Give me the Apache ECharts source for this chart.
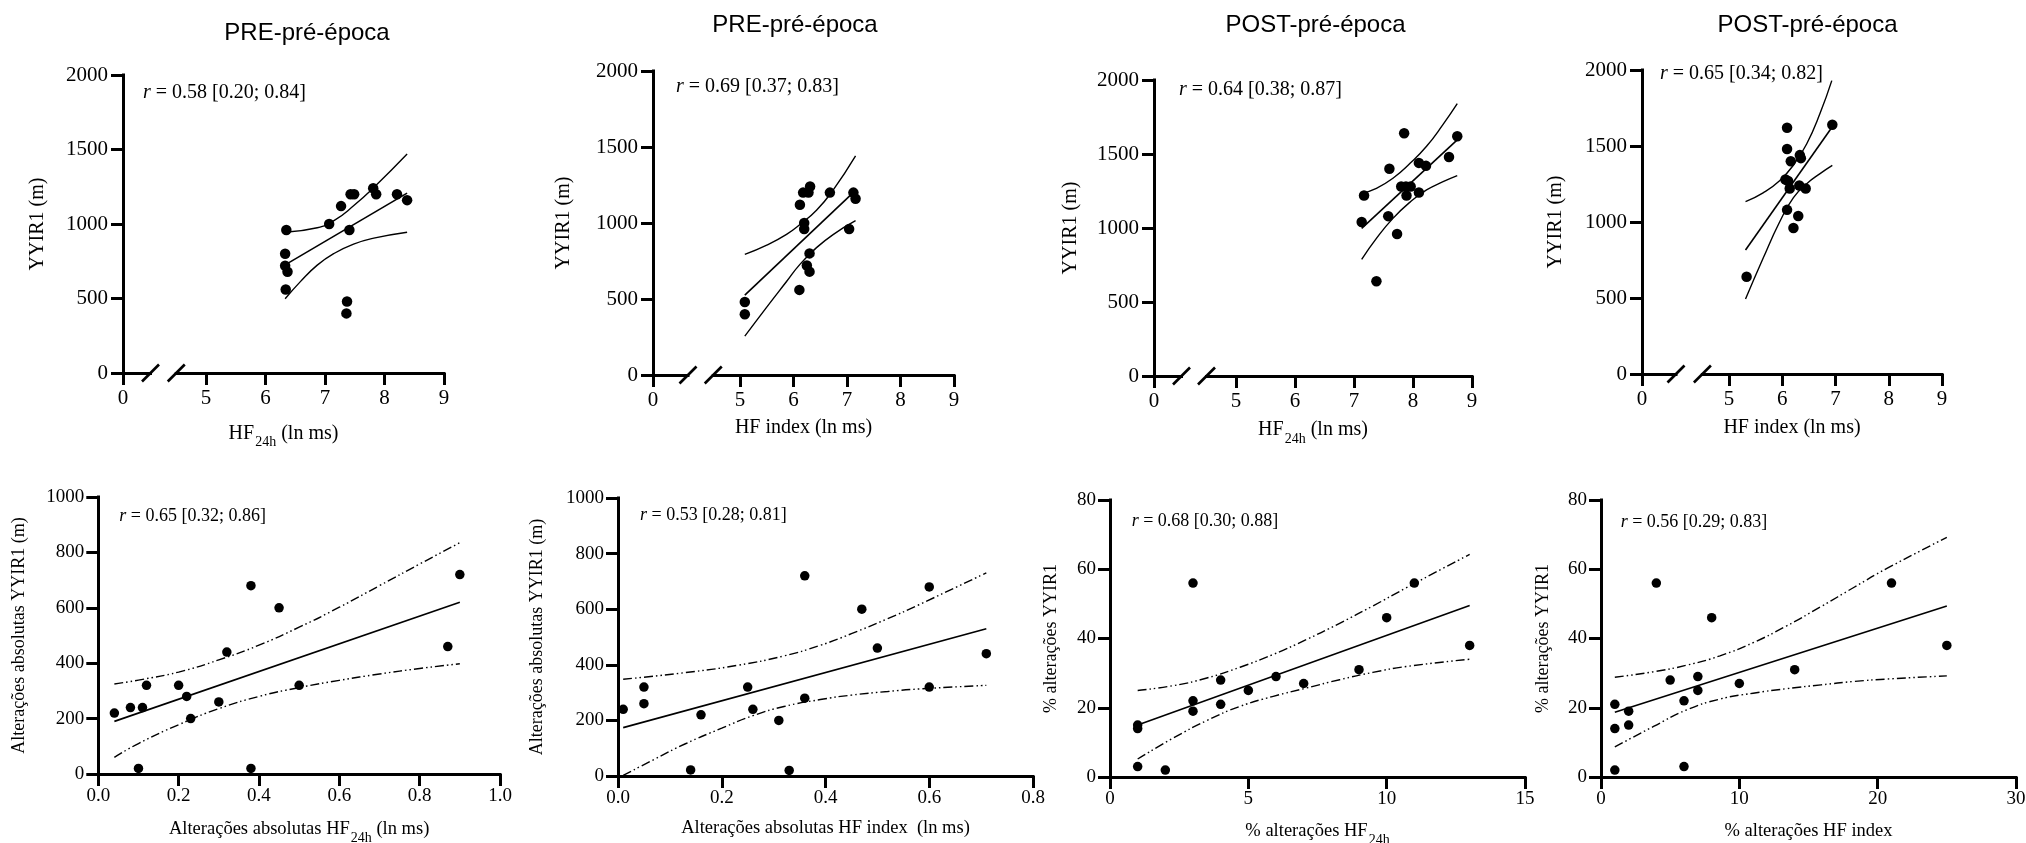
<!DOCTYPE html>
<html>
<head>
<meta charset="utf-8">
<title>YYIR1 vs HF</title>
<script src="https://cdn.jsdelivr.net/npm/echarts@6.0.0/dist/echarts.min.js"></script>
<style>
html,body{margin:0;padding:0;background:#ffffff;}
#chart{width:2026px;height:843px;}
</style>
</head>
<body>
<div id="chart"></div>
<script>
// ====================== DATA ======================
const panelTitles = ['PRE-pré-época', 'PRE-pré-época', 'POST-pré-época', 'POST-pré-época'];
const rLabels = ['0.58 [0.20; 0.84]', '0.69 [0.37; 0.83]', '0.64 [0.38; 0.87]', '0.65 [0.34; 0.82]',
                 '0.65 [0.32; 0.86]', '0.53 [0.28; 0.81]', '0.68 [0.30; 0.88]', '0.56 [0.29; 0.83]'];
const topXTicks = [5, 6, 7, 8, 9];
const topXZeroTick = [0];

// Panel 1: PRE, HF24h
const pre24hX = [6.35, 6.33, 6.33, 6.37, 6.34, 7.07, 7.27, 7.43, 7.49, 7.41, 7.37, 7.36, 7.81, 7.86, 8.21, 8.38];
const pre24hY = [960, 800, 720, 680, 560, 1000, 1120, 1200, 1200, 960, 480, 400, 1240, 1200, 1200, 1160];
const pre24hFitX = [6.33, 8.38];
const pre24hFitY = [726, 1207];
const pre24hUpX = [6.33, 6.87, 7.15, 7.48, 7.82, 8.38];
const pre24hUpY = [945, 975, 1022, 1122, 1245, 1470];
const pre24hLoX = [6.33, 6.59, 6.87, 7.15, 7.48, 7.82, 8.38];
const pre24hLoY = [498, 615, 724, 802, 865, 905, 945];

// Panel 2: PRE, HF index
const preIdxX = [5.09, 5.09, 6.11, 6.12, 6.18, 6.28, 6.31, 6.20, 6.20, 6.30, 6.25, 6.30, 6.68, 7.04, 7.12, 7.16];
const preIdxY = [480, 400, 560, 1120, 1200, 1200, 1240, 1000, 960, 800, 720, 680, 1200, 960, 1200, 1160];
const preIdxFitX = [5.09, 7.16];
const preIdxFitY = [526, 1215];
const preIdxUpX = [5.09, 5.50, 5.87, 6.12, 6.43, 6.74, 7.16];
const preIdxUpY = [793, 854, 925, 990, 1084, 1216, 1441];
const preIdxLoX = [5.09, 5.50, 5.87, 6.12, 6.43, 6.74, 7.16];
const preIdxLoY = [256, 447, 615, 728, 838, 924, 1015];

// Panel 3: POST, HF24h
const post24hX = [7.13, 7.17, 7.38, 7.58, 7.60, 7.73, 7.80, 7.85, 7.88, 7.89, 7.96, 8.10, 8.10, 8.22, 8.61, 8.75];
const post24hY = [1040, 1220, 640, 1080, 1400, 960, 1280, 1640, 1280, 1220, 1280, 1440, 1240, 1420, 1480, 1620];
const post24hFitX = [7.13, 8.75];
const post24hFitY = [998, 1595];
const post24hUpX = [7.13, 7.38, 7.66, 7.95, 8.23, 8.51, 8.75];
const post24hUpY = [1234, 1268, 1336, 1437, 1552, 1700, 1840];
const post24hLoX = [7.13, 7.38, 7.66, 7.95, 8.23, 8.51, 8.75];
const post24hLoY = [788, 930, 1065, 1175, 1257, 1313, 1354];

// Panel 4: POST, HF index
const postIdxX = [5.33, 6.09, 6.09, 6.16, 6.06, 6.11, 6.14, 6.09, 6.21, 6.30, 6.32, 6.33, 6.35, 6.44, 6.94];
const postIdxY = [640, 1620, 1480, 1400, 1280, 1270, 1220, 1080, 960, 1040, 1240, 1440, 1420, 1220, 1640];
const postIdxFitX = [5.31, 6.94];
const postIdxFitY = [816, 1627];
const postIdxUpX = [5.31, 5.64, 5.95, 6.21, 6.46, 6.71, 6.93];
const postIdxUpY = [1134, 1192, 1272, 1375, 1515, 1715, 1930];
const postIdxLoX = [5.31, 5.64, 5.95, 6.21, 6.46, 6.71, 6.94];
const postIdxLoY = [493, 761, 1000, 1160, 1252, 1318, 1372];

// Panel 5: absolute changes, HF24h
const absHf24hX = [0.04, 0.08, 0.11, 0.12, 0.20, 0.22, 0.23, 0.30, 0.32, 0.38, 0.45, 0.50, 0.87, 0.90, 0.10, 0.38];
const absHf24hY = [220, 240, 240, 320, 320, 280, 200, 260, 440, 680, 600, 320, 460, 720, 20, 20];
const absHf24hFitX = [0.04, 0.90];
const absHf24hFitY = [190, 620];
const absHf24hUpX = [0.04, 0.1, 0.2, 0.3, 0.4, 0.5, 0.6, 0.7, 0.8, 0.9];
const absHf24hUpY = [325, 339, 368, 412, 465, 530, 602, 680, 758, 835];
const absHf24hLoX = [0.04, 0.1, 0.2, 0.3, 0.4, 0.5, 0.6, 0.7, 0.8, 0.9];
const absHf24hLoY = [60, 110, 178, 236, 280, 312, 338, 361, 381, 398];

// Panel 6: absolute changes, HF index
const absIdxX = [0.01, 0.05, 0.05, 0.14, 0.16, 0.25, 0.26, 0.31, 0.33, 0.36, 0.36, 0.47, 0.50, 0.60, 0.60, 0.71];
const absIdxY = [240, 320, 260, 22, 220, 320, 240, 200, 20, 720, 280, 600, 460, 680, 320, 440];
const absIdxFitX = [0.01, 0.71];
const absIdxFitY = [174, 530];
const absIdxUpX = [0.01, 0.13, 0.23, 0.32, 0.39, 0.45, 0.52, 0.58, 0.71];
const absIdxUpY = [348, 372, 398, 432, 470, 512, 566, 616, 731];
const absIdxLoX = [0.01, 0.07, 0.13, 0.20, 0.26, 0.32, 0.39, 0.45, 0.52, 0.58, 0.71];
const absIdxLoY = [2, 60, 116, 172, 217, 250, 275, 291, 304, 313, 326];

// Panel 7: % changes, HF24h
const pctHf24hX = [1, 1, 1, 2, 3, 3, 3, 4, 4, 5, 6, 7, 9, 10, 11, 13];
const pctHf24hY = [3, 15, 14, 2, 56, 22, 19, 28, 21, 25, 29, 27, 31, 46, 56, 38];
const pctHf24hFitX = [1, 13];
const pctHf24hFitY = [15, 49.5];
const pctHf24hUpX = [1, 2.3, 3.5, 4.7, 5.9, 7.1, 8.3, 9.5, 10.7, 13];
const pctHf24hUpY = [25, 26.4, 28.6, 31.7, 35.4, 39.7, 44.4, 49.4, 54.6, 64.3];
const pctHf24hLoX = [1, 2.3, 3.5, 4.7, 5.9, 7.1, 8.3, 9.5, 10.7, 13];
const pctHf24hLoY = [5.2, 11.3, 16.3, 20.4, 23.3, 25.7, 28.1, 30.2, 31.9, 34];

// Panel 8: % changes, HF index
const pctIdxX = [1, 1, 1, 2, 2, 4, 5, 6, 6, 7, 7, 8, 10, 14, 21, 25];
const pctIdxY = [21, 14, 2, 19, 15, 56, 28, 22, 3, 29, 25, 46, 27, 31, 56, 38];
const pctIdxFitX = [1, 25];
const pctIdxFitY = [18.7, 49.4];
const pctIdxUpX = [1, 3.8, 6.2, 8.6, 11, 13.4, 15.9, 18.3, 20.7, 25];
const pctIdxUpY = [28.8, 30.4, 32.3, 35.0, 38.8, 43.6, 49.2, 54.8, 60.3, 69.2];
const pctIdxLoX = [1, 3.8, 6.2, 8.6, 11, 13.4, 15.9, 18.3, 20.7, 25];
const pctIdxLoY = [8.7, 14.6, 19.4, 22.5, 24.2, 25.5, 26.6, 27.6, 28.3, 29.2];

// ====================== LAYOUT / STYLE ======================
const SERIF = '"Liberation Serif", "Times New Roman", serif';
const SANS = '"Liberation Sans", Arial, sans-serif';
const INK = '#000000';

const topPanels = [
  {x: pre24hX, y: pre24hY, fx: pre24hFitX, fy: pre24hFitY, ux: pre24hUpX, uy: pre24hUpY, lx: pre24hLoX, ly: pre24hLoY, sub: true,
   ax: 123, yt: 75, yb: 373, stub: 150.5, ms: 176.25, me: 444, titleX: 307, titleY: 33.5, yGap: 75, xNameY: 423.5, rX: 143, rY: 92.5},
  {x: preIdxX, y: preIdxY, fx: preIdxFitX, fy: preIdxFitY, ux: preIdxUpX, uy: preIdxUpY, lx: preIdxLoX, ly: preIdxLoY, sub: false,
   ax: 653, yt: 71, yb: 375, stub: 688, ms: 713.25, me: 954, titleX: 795, titleY: 25.5, yGap: 79, xNameY: 418, rX: 676, rY: 86.7},
  {x: post24hX, y: post24hY, fx: post24hFitX, fy: post24hFitY, ux: post24hUpX, uy: post24hUpY, lx: post24hLoX, ly: post24hLoY, sub: true,
   ax: 1154, yt: 80, yb: 376, stub: 1181.5, ms: 1206.5, me: 1472, titleX: 1315.5, titleY: 25.5, yGap: 73, xNameY: 420, rX: 1179, rY: 90},
  {x: postIdxX, y: postIdxY, fx: postIdxFitX, fy: postIdxFitY, ux: postIdxUpX, uy: postIdxUpY, lx: postIdxLoX, ly: postIdxLoY, sub: false,
   ax: 1642, yt: 70, yb: 374, stub: 1676, ms: 1702.4, me: 1942, titleX: 1807.5, titleY: 25.5, yGap: 76, xNameY: 418, rX: 1660, rY: 73.3}
];

const bottomPanels = [
  {x: absHf24hX, y: absHf24hY, fx: absHf24hFitX, fy: absHf24hFitY, ux: absHf24hUpX, uy: absHf24hUpY, lx: absHf24hLoX, ly: absHf24hLoY,
   xmin: 0, xmax: 1, xint: 0.2, ymax: 1000, yint: 200, dec: 1,
   xName: '{m|Alterações absolutas HF}{s|24h}{m| (ln ms)}', yName: 'Alterações absolutas YYIR1 (m)',
   ax: 98.3, right: 500, yt: 497, yb: 774, yGap: 70, xGap: 46, rX: 119.3, rY: 516},
  {x: absIdxX, y: absIdxY, fx: absIdxFitX, fy: absIdxFitY, ux: absIdxUpX, uy: absIdxUpY, lx: absIdxLoX, ly: absIdxLoY,
   xmin: 0, xmax: 0.8, xint: 0.2, ymax: 1000, yint: 200, dec: 1,
   xName: '{m|Alterações absolutas HF index  (ln ms)}', yName: 'Alterações absolutas YYIR1 (m)',
   ax: 618, right: 1033, yt: 498, yb: 776, yGap: 72, xGap: 43, rX: 640, rY: 515},
  {x: pctHf24hX, y: pctHf24hY, fx: pctHf24hFitX, fy: pctHf24hFitY, ux: pctHf24hUpX, uy: pctHf24hUpY, lx: pctHf24hLoX, ly: pctHf24hLoY,
   xmin: 0, xmax: 15, xint: 5, ymax: 80, yint: 20, dec: 0,
   xName: '{m|% alterações HF}{s|24h}', yName: '% alterações YYIR1',
   ax: 1110, right: 1525, yt: 500, yb: 777, yGap: 50, xGap: 45, rX: 1131.7, rY: 521},
  {x: pctIdxX, y: pctIdxY, fx: pctIdxFitX, fy: pctIdxFitY, ux: pctIdxUpX, uy: pctIdxUpY, lx: pctIdxLoX, ly: pctIdxLoY,
   xmin: 0, xmax: 30, xint: 10, ymax: 80, yint: 20, dec: 0,
   xName: '{m|% alterações HF index}', yName: '% alterações YYIR1',
   ax: 1601, right: 2016, yt: 500, yb: 777, yGap: 49, xGap: 45, rX: 1620.7, rY: 522.5}
];

// ====================== BUILD OPTION ======================
function pairs(xs, ys) { return xs.map((v, i) => [v, ys[i]]); }

const grids = [], xAxes = [], yAxes = [], series = [], graphics = [];

const axisLine = {show: true, onZero: false, lineStyle: {color: INK, width: 3, cap: 'square'}};
function ticks(len, custom) {
  const t = {show: true, inside: false, length: len, lineStyle: {color: INK, width: 3}};
  if (custom) t.customValues = custom;
  return t;
}
function labels(size, margin, extra) {
  return Object.assign({show: true, color: INK, fontFamily: SERIF, fontSize: size, margin: margin,
    formatter: v => String(v)}, extra || {});
}
function nameRich(size, subSize, subPad) {
  return {
    m: {fontFamily: SERIF, fontSize: size, color: INK, lineHeight: size, verticalAlign: 'top'},
    s: {fontFamily: SERIF, fontSize: subSize, color: INK, verticalAlign: 'top', padding: [subPad, 0, 0, 1]}
  };
}

function addLines(p, xi, yi, dashed, symSize) {
  const ls = dashed ? [9, 3, 1.5, 3, 1.5, 3] : 'solid';
  const base = {type: 'line', xAxisIndex: xi, yAxisIndex: yi, symbol: 'none', showSymbol: false,
                silent: true, animation: false, z: 2};
  series.push(Object.assign({}, base, {data: pairs(p.fx, p.fy), smooth: false,
    lineStyle: {color: INK, width: 1.6, type: 'solid'}}));
  series.push(Object.assign({}, base, {data: pairs(p.ux, p.uy), smooth: 0.5,
    lineStyle: {color: INK, width: 1.4, type: ls}}));
  series.push(Object.assign({}, base, {data: pairs(p.lx, p.ly), smooth: 0.5,
    lineStyle: {color: INK, width: 1.4, type: ls}}));
  series.push({type: 'scatter', xAxisIndex: xi, yAxisIndex: yi, data: pairs(p.x, p.y),
    symbol: 'circle', symbolSize: symSize, itemStyle: {color: INK, opacity: 1}, z: 3,
    silent: true, animation: false});
}

const rRich = {
  i: {fontFamily: SERIF, fontSize: 20, fontStyle: 'italic', fill: INK},
  n: {fontFamily: SERIF, fontSize: 20, fill: INK}
};

// ---- top row (broken x axis: stub grid + main grid) ----
topPanels.forEach((p, k) => {
  const h = p.yb - p.yt;
  grids.push({left: p.ax, top: p.yt, width: p.stub - p.ax, height: h, containLabel: false, outerBoundsMode: 'none'});
  const gStub = grids.length - 1;
  xAxes.push({type: 'value', gridIndex: gStub, min: 0, max: 1, axisLine: axisLine,
    axisTick: ticks(12, topXZeroTick), axisLabel: labels(21, 15, {customValues: topXZeroTick}),
    splitLine: {show: false}});
  yAxes.push({type: 'value', gridIndex: gStub, min: 0, max: 2000, interval: 500, axisLine: axisLine,
    axisTick: ticks(12), axisLabel: labels(21, 15), splitLine: {show: false},
    name: 'YYIR1 (m)', nameLocation: 'middle', nameGap: p.yGap, nameMoveOverlap: false,
    nameTextStyle: {fontFamily: SERIF, fontSize: 20, color: INK}});
  grids.push({left: p.ms, top: p.yt, width: p.me - p.ms, height: h, containLabel: false, outerBoundsMode: 'none'});
  const gMain = grids.length - 1;
  xAxes.push({type: 'value', gridIndex: gMain, min: 4.5, max: 9, axisLine: axisLine,
    axisTick: ticks(12, topXTicks), axisLabel: labels(21, 15, {customValues: topXTicks}),
    splitLine: {show: false}});
  yAxes.push({type: 'value', gridIndex: gMain, min: 0, max: 2000, show: false});
  addLines(p, xAxes.length - 1, yAxes.length - 1, false, 10.5);

  // break marks
  [p.stub, p.ms].forEach(cx => {
    graphics.push({type: 'line', silent: true, z: 50,
      shape: {x1: cx - 8.5, y1: p.yb + 8.5, x2: cx + 8.5, y2: p.yb - 8.5},
      style: {stroke: INK, lineWidth: 2.6}});
  });
  graphics.push({type: 'text', x: p.titleX, y: p.titleY, silent: true,
    style: {text: panelTitles[k], fontFamily: SANS, fontSize: 24, fill: INK, align: 'center', verticalAlign: 'middle'}});
  graphics.push({type: 'text', x: (p.ax + p.me) / 2, y: p.xNameY, silent: true,
    style: {text: p.sub ? '{m|HF}{s|24h}{m| (ln ms)}' : '{m|HF index (ln ms)}',
      align: 'center', verticalAlign: 'top',
      rich: {m: {fontFamily: SERIF, fontSize: 20, fill: INK, lineHeight: 20, verticalAlign: 'top'},
             s: {fontFamily: SERIF, fontSize: 14, fill: INK, verticalAlign: 'top', padding: [12, 0, 0, 1]}}}});
  graphics.push({type: 'text', x: p.rX, y: p.rY, silent: true,
    style: {text: '{i|r}{n| = ' + rLabels[k] + '}', align: 'left', verticalAlign: 'middle', rich: rRich}});
});

// ---- bottom row ----
const rRichB = {
  i: {fontFamily: SERIF, fontSize: 18, fontStyle: 'italic', fill: INK},
  n: {fontFamily: SERIF, fontSize: 18, fill: INK}
};
bottomPanels.forEach((p, k) => {
  grids.push({left: p.ax, top: p.yt, width: p.right - p.ax, height: p.yb - p.yt, containLabel: false, outerBoundsMode: 'none'});
  const g = grids.length - 1;
  xAxes.push({type: 'value', gridIndex: g, min: p.xmin, max: p.xmax, interval: p.xint,
    axisLine: axisLine, axisTick: ticks(12),
    axisLabel: labels(19, 13, {formatter: v => Number(v).toFixed(p.dec), showMinLabel: true, showMaxLabel: true}),
    splitLine: {show: false},
    name: p.xName, nameLocation: 'middle', nameGap: p.xGap, nameMoveOverlap: false,
    nameTextStyle: {fontFamily: SERIF, fontSize: 18.5, color: INK, rich: nameRich(18.5, 14, 11)}});
  yAxes.push({type: 'value', gridIndex: g, min: 0, max: p.ymax, interval: p.yint,
    axisLine: axisLine, axisTick: ticks(12), axisLabel: labels(19, 14), splitLine: {show: false},
    name: p.yName, nameLocation: 'middle', nameGap: p.yGap, nameMoveOverlap: false,
    nameTextStyle: {fontFamily: SERIF, fontSize: 18, color: INK}});
  addLines(p, xAxes.length - 1, yAxes.length - 1, true, 9.5);
  graphics.push({type: 'text', x: p.rX, y: p.rY, silent: true,
    style: {text: '{i|r}{n| = ' + rLabels[4 + k] + '}', align: 'left', verticalAlign: 'middle', rich: rRichB}});
});

const chart = echarts.init(document.getElementById('chart'), null, {renderer: 'canvas', width: 2026, height: 843});
chart.setOption({
  backgroundColor: '#ffffff',
  animation: false,
  grid: grids,
  xAxis: xAxes,
  yAxis: yAxes,
  series: series,
  graphic: {elements: graphics}
});
</script>
</body>
</html>
